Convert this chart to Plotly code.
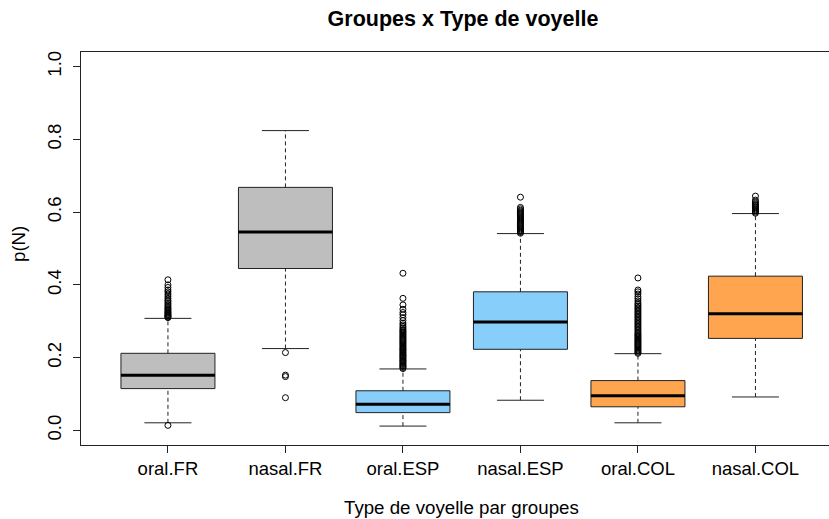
import plotly.graph_objects as go

# ---------------- data ----------------
groups = ["oral.FR", "nasal.FR", "oral.ESP", "nasal.ESP", "oral.COL", "nasal.COL"]
positions = [1, 2, 3, 4, 5, 6]
q1 = [0.115, 0.445, 0.049, 0.223, 0.065, 0.253]
medians = [0.152, 0.545, 0.072, 0.298, 0.095, 0.321]
q3 = [0.212, 0.668, 0.109, 0.381, 0.137, 0.424]
lower_whisker = [0.021, 0.225, 0.012, 0.083, 0.021, 0.092]
upper_whisker = [0.308, 0.824, 0.169, 0.541, 0.211, 0.596]
fill_colors = ["#BEBEBE", "#BEBEBE", "#87CEFA", "#87CEFA", "#FFA54F", "#FFA54F"]

out_oral_FR = [0.014, 0.310, 0.312, 0.314, 0.316, 0.318, 0.320, 0.323, 0.325, 0.328,
               0.331, 0.334, 0.337, 0.341, 0.345, 0.349, 0.354, 0.358, 0.363, 0.369,
               0.375, 0.381, 0.386, 0.393, 0.400, 0.414]
out_nasal_FR = [0.214, 0.152, 0.148, 0.090]
out_oral_ESP = [0.170, 0.173, 0.176, 0.178, 0.181, 0.184, 0.187, 0.190, 0.192, 0.195,
                0.198, 0.201, 0.204, 0.206, 0.209, 0.212, 0.215, 0.218, 0.221, 0.223,
                0.226, 0.229, 0.232, 0.235, 0.238, 0.241, 0.244, 0.247, 0.250, 0.253,
                0.256, 0.259, 0.262, 0.265, 0.268, 0.271, 0.274, 0.277, 0.281, 0.285,
                0.290, 0.295, 0.302, 0.310, 0.318, 0.324, 0.333, 0.345, 0.363, 0.432]
out_nasal_ESP = [0.542, 0.545, 0.548, 0.551, 0.554, 0.557, 0.560, 0.563, 0.566, 0.569,
                 0.572, 0.575, 0.578, 0.581, 0.584, 0.587, 0.590, 0.593, 0.596, 0.599,
                 0.602, 0.605, 0.609, 0.613, 0.641]
out_oral_COL = [0.212, 0.215, 0.218, 0.221, 0.224, 0.227, 0.230, 0.233, 0.236, 0.239,
                0.242, 0.245, 0.248, 0.251, 0.254, 0.257, 0.260, 0.263, 0.266, 0.270,
                0.274, 0.278, 0.282, 0.286, 0.290, 0.294, 0.298, 0.302, 0.306, 0.310,
                0.314, 0.318, 0.322, 0.326, 0.330, 0.334, 0.338, 0.342, 0.346, 0.350,
                0.356, 0.362, 0.368, 0.375, 0.381, 0.386, 0.419]
out_nasal_COL = [0.597, 0.600, 0.603, 0.606, 0.609, 0.612, 0.615, 0.618, 0.621, 0.624,
                 0.628, 0.633, 0.644]
outliers = [out_oral_FR, out_nasal_FR, out_oral_ESP, out_nasal_ESP, out_oral_COL, out_nasal_COL]

y_ticks = [0.0, 0.2, 0.4, 0.6, 0.8, 1.0]
y_tick_text = ["0.0", "0.2", "0.4", "0.6", "0.8", "1.0"]

title_text = "Groupes x Type de voyelle"
x_title = "Type de voyelle par groupes"
y_title = "p(N)"

# ---------------- styles ----------------
FONT = "Liberation Sans, Arial, sans-serif"
BOXW = 0.8
STAPLE_HALF = 0.2
LINE_COL = "#222222"

fig = go.Figure()

for i, p in enumerate(positions):
    # whiskers (dashed)
    fig.add_trace(go.Scatter(
        x=[p, p, None, p, p],
        y=[lower_whisker[i], q1[i], None, q3[i], upper_whisker[i]],
        mode="lines", line=dict(color=LINE_COL, width=1, dash="4px,3px"),
        hoverinfo="skip"))
    # staples
    fig.add_trace(go.Scatter(
        x=[p - STAPLE_HALF, p + STAPLE_HALF, None, p - STAPLE_HALF, p + STAPLE_HALF],
        y=[lower_whisker[i], lower_whisker[i], None, upper_whisker[i], upper_whisker[i]],
        mode="lines", line=dict(color=LINE_COL, width=1), hoverinfo="skip"))
    # box
    fig.add_trace(go.Box(
        x=[p], q1=[q1[i]], median=[medians[i]], q3=[q3[i]],
        lowerfence=[q1[i]], upperfence=[q3[i]],
        width=BOXW, fillcolor=fill_colors[i],
        line=dict(color=LINE_COL, width=1), boxpoints=False, whiskerwidth=0,
        name=groups[i]))
    # thick median
    fig.add_trace(go.Scatter(
        x=[p - BOXW / 2, p + BOXW / 2], y=[medians[i], medians[i]],
        mode="lines", line=dict(color="black", width=3), hoverinfo="skip"))
    # outliers
    fig.add_trace(go.Scatter(
        x=[p] * len(outliers[i]), y=outliers[i], mode="markers",
        marker=dict(symbol="circle-open", size=6, color="black", line=dict(width=1)),
        hoverinfo="skip"))

W, H = 829, 519
L, R, T, B = 81, 0, 52, 74
pw = W - L - R
ph = H - T - B
unit = 117.5  # px per category
x_right = 0.26 + pw / unit

fig.update_layout(
    width=W, height=H,
    margin=dict(l=L, r=R, t=T, b=B, pad=0),
    paper_bgcolor="white", plot_bgcolor="white",
    showlegend=False,
    font=dict(family=FONT, color="black"),
    title=dict(text="<b>" + title_text + "</b>", x=(463 - L) / pw, xref="paper",
               xanchor="center", y=1 - 18 / H, yref="container", yanchor="middle",
               font=dict(size=21.5, family=FONT, color="black")),
    xaxis=dict(range=[0.26, x_right], tickmode="array", tickvals=positions, ticktext=groups,
               ticks="outside", ticklen=7, tickcolor=LINE_COL, tickwidth=1,
               showline=True, linecolor=LINE_COL, linewidth=1, mirror=True,
               showgrid=False, zeroline=False,
               tickfont=dict(size=18.5, family=FONT, color="black")),
    yaxis=dict(range=[-0.04, 1.04], tickmode="array", tickvals=y_ticks, ticktext=y_tick_text,
               tickangle=-90, ticks="outside", ticklen=7, tickcolor=LINE_COL, tickwidth=1,
               showline=True, linecolor=LINE_COL, linewidth=1, mirror=False,
               showgrid=False, zeroline=False, ticklabelstandoff=5,
               tickfont=dict(size=18.5, family=FONT, color="black")),
    annotations=[
        dict(text=x_title, xref="paper", yref="paper", x=(461.3 - L) / pw,
             y=(H - B - 507) / ph, xanchor="center", yanchor="middle", showarrow=False,
             font=dict(size=18.7, family=FONT, color="black")),
        dict(text=y_title, xref="paper", yref="paper", x=(18 - L) / pw,
             y=(H - B - 244) / ph, xanchor="center", yanchor="middle", showarrow=False,
             textangle=-90, font=dict(size=18.7, family=FONT, color="black")),
    ],
)

fig.write_html("out.html", config={"displayModeBar": False},
               post_script="document.body.style.margin='0px';document.body.style.padding='0px';")
